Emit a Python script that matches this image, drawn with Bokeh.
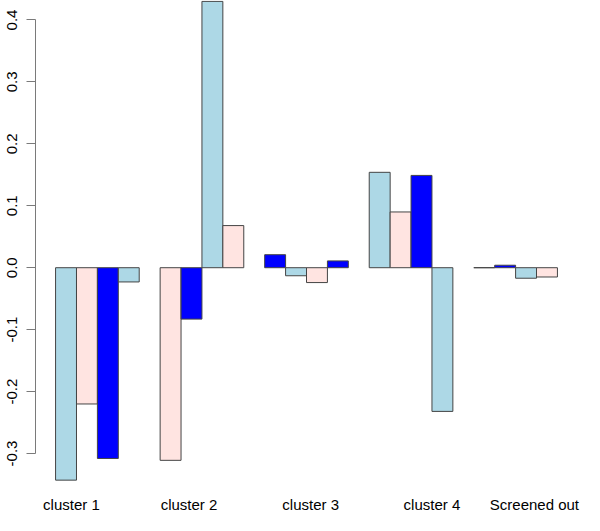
import numpy as np
from bokeh.plotting import figure
from bokeh.models import Range1d, FixedTicker, PrintfTickFormatter, ColumnDataSource
from bokeh.embed import file_html
from bokeh.resources import INLINE

# ---- data ----
groups = ["cluster 1", "cluster 2", "cluster 3", "cluster 4", "Screened out"]
s1 = [-0.343, -0.311, 0.021, 0.154, 0.000]
s2 = [-0.220, -0.083, -0.013, 0.090, 0.004]
s3 = [-0.308, 0.430, -0.024, 0.149, -0.017]
s4 = [-0.023, 0.068, 0.011, -0.232, -0.015]
palette = ["#ADD8E6", "#FFE4E1", "#0000FF"]  # lightblue, mistyrose, blue (recycled)
y_ticks = [-0.3, -0.2, -0.1, 0.0, 0.1, 0.2, 0.3, 0.4]
label_x = [1.76, 7.38, 13.2, 19.0, 23.9]  # where the group names are written

# ---- layout of bars (R barplot, beside=TRUE, space=c(0,1)) ----
mat = np.array([s1, s2, s3, s4])  # rows = series, cols = groups
nser, ngrp = mat.shape
lefts, rights, tops, bottoms, colors = [], [], [], [], []
k = 0
for g in range(ngrp):
    for j in range(nser):
        left = 1 + g * (nser + 1) + j
        v = mat[j, g]
        lefts.append(left)
        rights.append(left + 1)
        tops.append(max(v, 0.0))
        bottoms.append(min(v, 0.0))
        colors.append(palette[k % len(palette)])
        k += 1
src = ColumnDataSource(dict(left=lefts, right=rights, top=tops, bottom=bottoms, color=colors))

xmax = ngrp * (nser + 1)
pad = 0.04 * (xmax - 1)

p = figure(width=584, height=515, output_backend="svg", toolbar_location=None,
           x_range=Range1d(1 - pad, xmax + pad), y_range=Range1d(-0.3484, 0.4314),
           min_border_left=35, min_border_right=7, min_border_top=0, min_border_bottom=30)
p.outline_line_color = None
p.xgrid.visible = False
p.ygrid.visible = False
p.background_fill_color = "white"
p.border_fill_color = "white"

p.quad(left="left", right="right", top="top", bottom="bottom", fill_color="color",
       line_color="#444444", line_width=1, source=src)

# y axis
ya = p.yaxis[0]
ya.ticker = FixedTicker(ticks=y_ticks)
ya.formatter = PrintfTickFormatter(format="%.1f")
ya.bounds = (min(y_ticks), max(y_ticks))
ya.axis_line_color = "#7a7a7a"
ya.major_tick_line_color = "#7a7a7a"
ya.major_tick_out = 9
ya.major_tick_in = 0
ya.minor_tick_line_color = None
ya.major_label_orientation = "vertical"
ya.major_label_standoff = 9
ya.major_label_text_font = "Liberation Sans"
ya.major_label_text_font_size = "15px"
ya.major_label_text_color = "black"

# x axis (group labels only)
xa = p.xaxis[0]
xa.ticker = FixedTicker(ticks=label_x)
xa.major_label_overrides = {float(x): g for x, g in zip(label_x, groups)}
xa.axis_line_color = None
xa.major_tick_line_color = None
xa.minor_tick_line_color = None
xa.major_label_standoff = 6
xa.major_label_text_font = "Liberation Sans"
xa.major_label_text_font_size = "15px"
xa.major_label_text_color = "black"

open("out.html", "w").write(file_html(p, INLINE))
